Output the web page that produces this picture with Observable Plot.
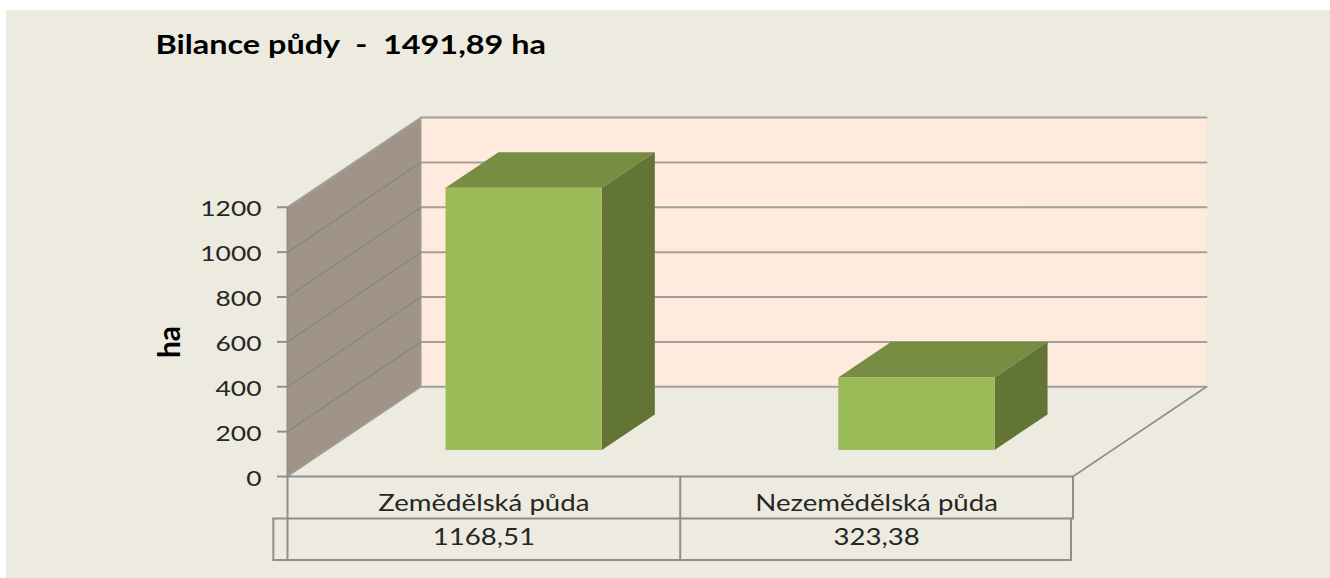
<!DOCTYPE html>
<html><head><meta charset="utf-8">
<script src="https://cdn.jsdelivr.net/npm/d3@7"></script>
<script src="https://cdn.jsdelivr.net/npm/@observablehq/plot@0.6"></script>
<style>
html,body{margin:0;padding:0;background:#fff;width:1330px;height:578px;overflow:hidden}
#bg{position:absolute;left:6px;top:10px;right:0;bottom:0;background:#EDEBE0}
#chart{position:absolute;left:0;top:0}
svg{background:transparent!important;overflow:visible}
</style></head><body>
<div id="bg"></div><div id="chart"></div>
<script>
const chartTitle = "Bilance půdy\u00a0\u00a0-\u00a0\u00a01491,89 ha";
const yTitle = "ha";
const categories = ["Zemědělská půda", "Nezemědělská půda"];
const values = [1168.51, 323.38];
const valueLabels = ["1168,51", "323,38"];
const yTicks = [0, 200, 400, 600, 800, 1000, 1200];

// Oblique projection of the chart's third axis, in x (category) and y (ha) units
const depthX = 0.34, depthY = 400;
const P = (cat, ha, depth) => ({x: cat + depth * depthX, y: ha + depth * depthY});
const barStart = 0.302, barWidth = 0.398, barD0 = 0.295, barD1 = 0.692;
const row1 = -187, row2 = -372, keyX = -0.036;
const nCat = categories.length;

const colors = {wall:"#A09488", back:"#FFEBDD", front:"#9BBB59", top:"#778E42", side:"#637535", grid:"#A3A09B", wallGrid:"#868686", table:"#8E8E8E"};
const face = (pts, fill) => Plot.line(pts, {x:"x", y:"y", fill, stroke:"none"});
const seg = (a, b, stroke, strokeWidth) => Plot.line([a, b], {x:"x", y:"y", stroke, strokeWidth});

const marks = [
  face([P(0,0,1),P(nCat,0,1),P(nCat,1200,1),P(0,1200,1)], colors.back),
  ...yTicks.map(t => seg(P(0,t,1),P(nCat,t,1),colors.grid,2)),
  face([P(0,0,0),P(0,0,1),P(0,1200,1),P(0,1200,0)], colors.wall),
  ...yTicks.slice(1,-1).map(t => seg(P(0,t,0),P(0,t,1),colors.wallGrid,1.5)),
  seg(P(0,1200,0),P(0,1200,1),colors.grid,1.6),
  seg(P(0,0,0),P(0,0,1),colors.grid,1.4),
  seg(P(0,0,1),P(0,1200,1),colors.grid,1),
  seg(P(nCat,0,0),P(nCat,0,1),colors.table,1.6),
];
values.forEach((v,i) => {
  const l = i + barStart, r = l + barWidth;
  marks.push(
    face([P(l,v,barD0),P(r,v,barD0),P(r,v,barD1),P(l,v,barD1)], colors.top),
    face([P(r,0,barD0),P(r,0,barD1),P(r,v,barD1),P(r,v,barD0)], colors.side),
    face([P(l,0,barD0),P(r,0,barD0),P(r,v,barD0),P(l,v,barD0)], colors.front)
  );
});
// data table
const tableFont = {fontFamily:"Lato", fontSize:23, fill:"#262626", lineAnchor:"middle"};
marks.push(
  seg(P(0,0,0),P(nCat,0,0),colors.table,2),
  seg(P(0,1200,0),P(0,row2,0),colors.table,2),
  seg(P(keyX,row1,0),P(nCat,row1,0),colors.table,2),
  seg(P(keyX,row2,0),P(nCat-0.005,row2,0),colors.table,2),
  seg(P(keyX,row1,0),P(keyX,row2,0),colors.table,2),
  seg(P(1,0,0),P(1,row2,0),colors.table,2),
  seg(P(nCat,0,0),P(nCat,row1,0),colors.table,2),
  seg(P(nCat-0.005,row1,0),P(nCat-0.005,row2,0),colors.table,2),
  Plot.text(categories,{x:(d,i)=>i+0.5,y:()=>row1*0.64,text:d=>d,...tableFont}),
  Plot.text(valueLabels,{x:(d,i)=>i+0.5,y:()=>(row1+row2)/2+6,text:d=>d,...tableFont}),
  Plot.axisY(yTicks,{anchor:"left",tickSize:10,tickFormat:()=>"",label:null,stroke:colors.table,strokeWidth:2}),
  Plot.axisY(yTicks,{anchor:"left",tickSize:0,tickPadding:26,dy:2,tickFormat:d=>String(d),label:null,
    fill:"#262626",fontFamily:"Lato",fontSize:22}),
  Plot.text([yTitle],{frameAnchor:"left",dx:-117,dy:45,rotate:-90,textAnchor:"middle",fontFamily:"Lato",fontWeight:"bold",fontSize:30,fill:"#000"}),
  Plot.text([chartTitle],{frameAnchor:"top-left",dx:-132,dy:-72,textAnchor:"start",lineAnchor:"middle",fontFamily:"Lato",fontWeight:"bold",fontSize:27,fill:"#000"})
);

const chart = Plot.plot({
  width:1330, height:578,
  marginLeft:287, marginRight:124, marginTop:117, marginBottom:102,
  x:{domain:[0,nCat+depthX], axis:null},
  y:{domain:[0,1200+depthY], axis:null},
  style:{background:"transparent", overflow:"visible"},
  marks
});
document.getElementById("chart").append(chart);
// The reference is horizontally stretched: widen the horizontal text glyphs to match
chart.querySelectorAll("text").forEach(t => {
  if (t.textContent === yTitle || !t.textContent) return;
  const stretch = t.textContent === chartTitle ? 1.2 : 1.2;
  t.setAttribute("lengthAdjust","spacingAndGlyphs");
  t.setAttribute("textLength", t.getComputedTextLength() * stretch);
});
</script></body></html>
